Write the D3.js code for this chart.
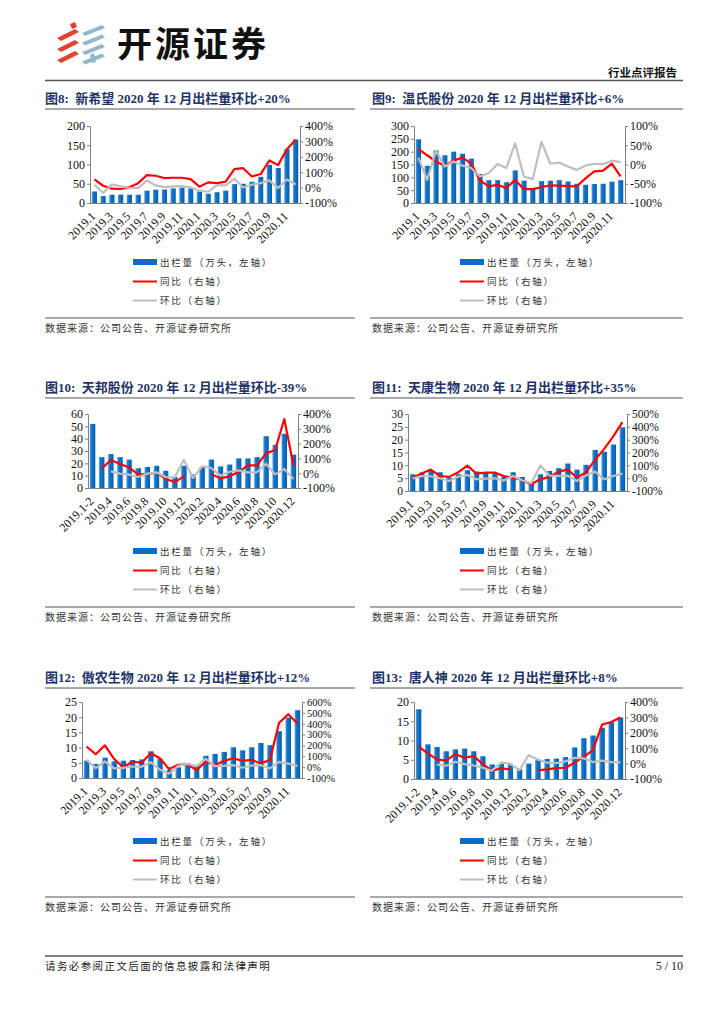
<!DOCTYPE html>
<html>
<head>
<meta charset="utf-8">
<script src="https://cdn.jsdelivr.net/npm/d3@7"></script>
<style>
  body { margin: 0; background: #fff; }
  svg { display: block; }
</style>
</head>
<body>
<svg id="page" width="724" height="1024"></svg>
<script>
// ---- categories ----
const months24 = ['2019.1','2019.2','2019.3','2019.4','2019.5','2019.6','2019.7','2019.8','2019.9','2019.10','2019.11','2019.12',
                  '2020.1','2020.2','2020.3','2020.4','2020.5','2020.6','2020.7','2020.8','2020.9','2020.10','2020.11','2020.12'];
const months23 = ['2019.1-2','2019.3','2019.4','2019.5','2019.6','2019.7','2019.8','2019.9','2019.10','2019.11','2019.12',
                  '2020.1','2020.2','2020.3','2020.4','2020.5','2020.6','2020.7','2020.8','2020.9','2020.10','2020.11','2020.12'];

// ---- 新希望 ----
const xhwOut = [30,18,21.5,22,21.5,21.5,32,34.5,35,38,40,38,30,24,28,32,49,50,55,68,99,91,140,165];
const xhwYoy = [53,12,-7,-9,3,29,81,77,62,64,64,55,6,34,29,38,120,126,72,88,176,146,249,310];
const xhwMom = [19,-35,21,8,-1,-3,47,14,3,8,10,1,-20,-27,16,14,57,1,19,29,47,-3,53,20];

// ---- 温氏股份 ----
const wsOut = [248,145,205,186,200,192,173,113,89,89,81,127,87,58,85,87,89,84,75,71,74,75,83,89];
const wsYoy = [40,24,8,-3,10,18,3,-41,-57,-53,-61,-40,-64,-64,-59,-54,-55,-56,-57,-36,-18,-16,2,-31];
const wsMom = [18,-40,36,-5,8,-3,-9,-31,-22,1,-9,55,-31,-38,59,2,5,-5,-14,-3,2,1,10,6];

// ---- 天邦股份 ----
const tbOut = [52,25,27.5,25,23,16,17,18,14,9,18,11,17,23,17.5,19,24,24,25,42,35,44,27];
const tbYoy = [null,31,89,62,40,-10,-5,4,-39,-60,-21,null,null,-5,-35,-21,8,53,53,134,157,366,53];
const tbMom = [null,null,12,-3,-10,-26,-3,6,-26,-28,91,-33,46,35,-17,10,19,6,6,64,-8,28,-39];

// ---- 天康生物 ----
const tkOut = [6.5,7.2,8.0,7.3,5.2,6.6,8.1,7.6,7.0,6.9,5.7,7.3,5.5,3.4,6.5,7.8,8.9,10.7,8.3,10.2,16.0,15.3,18.1,24.8];
const tkYoy = [4,36,67,17,10,46,98,36,43,43,17,4,-14,-48,-9,10,51,67,5,45,143,228,325,437];
const tkMom = [-3,17,15,-1,-22,12,25,-9,-4,-1,-19,17,-16,-40,98,20,17,20,-22,20,51,-9,17,35];

// ---- 傲农生物 ----
const anOut = [5.7,4.6,6.7,5.5,5.7,5.9,6.1,8.8,6.3,2.7,3.5,4.9,4.2,7.3,7.9,8.6,10.1,9.1,10.1,11.5,10.8,15.4,19.9,22.3];
const anYoy = [189,119,201,76,-3,52,40,128,82,-18,21,27,-27,52,18,58,82,58,67,33,67,408,487,402];
const anMom = [67,-9,52,-12,-6,6,3,46,-24,-61,12,30,9,76,9,12,18,-6,15,18,-12,49,33,12];

// ---- 唐人神 ----
const trsOut = [18.1,9.0,8.3,7.2,7.7,7.9,7.2,5.9,3.8,3.9,3.8,2.5,4.0,4.9,5.2,5.3,5.7,8.2,10.6,11.3,13.3,14.7,16.0];
const trsYoy = [111,66,27,19,62,38,49,-3,-46,-31,-38,null,null,-44,-38,-29,-27,6,44,88,253,270,299];
const trsMom = [null,null,-7,-14,12,-3,-12,-27,-46,6,-1,-42,55,27,6,3,14,38,34,10,19,10,8];

const legendLabels = ['出栏量（万头，左轴）', '同比（右轴）', '环比（右轴）'];
const sourceText = '数据来源：公司公告、开源证券研究所';

const SERIF = "'Liberation Serif','Times New Roman',serif";
const CJK = "'Noto Sans CJK SC','Noto Sans',sans-serif";
const TITLE_FONT = "'Liberation Serif','Noto Sans CJK SC',serif";
const NAVY = '#1F3466', RED = '#FF0000', GRAY = '#BFBFBF', AXIS = '#808080';

const svg = d3.select('#page');
const defs = svg.append('defs');
const grad = defs.append('linearGradient').attr('id', 'barGrad').attr('x1', 0).attr('x2', 1).attr('y1', 0).attr('y2', 0);
grad.append('stop').attr('offset', '0%').attr('stop-color', '#5AA6E6');
grad.append('stop').attr('offset', '30%').attr('stop-color', '#1874C8');
grad.append('stop').attr('offset', '100%').attr('stop-color', '#0060B0');

// ---- header ----
const head = svg.append('g');
[0, 1, 2].forEach(i => {
  const y = 29 + i * 11;
  head.append('path').attr('d', `M57,${y + 9} L75,${y} L79,${y + 3} L61,${y + 12} Z`).attr('fill', '#E2432F');
});
head.append('path').attr('d', 'M70,24 L75,22 L77,27 L72,29 Z').attr('fill', '#E2432F');
[0, 1, 2, 3].forEach(i => {
  const y = 25 + i * 9.5;
  head.append('path').attr('d', `M82,${y + 8} L102,${y} L105,${y + 3} L85,${y + 11} Z`).attr('fill', '#93B6C9');
});
head.append('path').attr('d', 'M90,55 L94,53 L96,62 L92,63 Z').attr('fill', '#93B6C9');
head.append('text').attr('x', 117).attr('y', 57).attr('font-family', CJK).attr('font-weight', 700)
  .attr('font-size', 35).attr('letter-spacing', 3).attr('fill', '#111').text('开源证券');
head.append('text').attr('x', 677).attr('y', 77).attr('text-anchor', 'end').attr('font-family', CJK)
  .attr('font-weight', 700).attr('font-size', 11.5).attr('fill', '#111').text('行业点评报告');
head.append('line').attr('x1', 45).attr('x2', 683).attr('y1', 80.5).attr('y2', 80.5).attr('stroke', '#555').attr('stroke-width', 1.5);

// ---- footer ----
svg.append('line').attr('x1', 45).attr('x2', 683).attr('y1', 956).attr('y2', 956).attr('stroke', '#555').attr('stroke-width', 1.5);
svg.append('text').attr('x', 45).attr('y', 970).attr('font-family', CJK).attr('font-size', 10.5).attr('letter-spacing', 1.4)
  .attr('fill', '#222').text('请务必参阅正文后面的信息披露和法律声明');
svg.append('text').attr('x', 683).attr('y', 970).attr('text-anchor', 'end').attr('font-family', SERIF).attr('font-size', 12)
  .attr('fill', '#222').style('white-space', 'pre').text('5 / 10');

// ---- panels ----
const colL = { x: 45, lx1: 45, lx2: 355 };
const colR = { x: 372, lx1: 370, lx2: 683 };

const panels = [
  { col: colL, ty: 98, title: '图8:  新希望 2020 年 12 月出栏量环比+20%', cats: months24, bars: xhwOut, yoy: xhwYoy, mom: xhwMom,
    left: [0, 200, 50], right: [-100, 400, 100], l: 90, r: 300, t: 126, b: 203, fs: 12 },
  { col: colR, ty: 98, title: '图9:  温氏股份 2020 年 12 月出栏量环比+6%', cats: months24, bars: wsOut, yoy: wsYoy, mom: wsMom,
    left: [0, 300, 50], right: [-100, 100, 50], l: 414, r: 625, t: 126, b: 203, fs: 12 },
  { col: colL, ty: 387, title: '图10:  天邦股份 2020 年 12 月出栏量环比-39%', cats: months23, bars: tbOut, yoy: tbYoy, mom: tbMom,
    left: [0, 60, 10], right: [-100, 400, 100], l: 88, r: 298, t: 414, b: 488, fs: 12 },
  { col: colR, ty: 387, title: '图11:  天康生物 2020 年 12 月出栏量环比+35%', cats: months24, bars: tkOut, yoy: tkYoy, mom: tkMom,
    left: [0, 30, 5], right: [-100, 500, 100], l: 408, r: 627, t: 414, b: 491, fs: 11.5 },
  { col: colL, ty: 677, title: '图12:  傲农生物 2020 年 12 月出栏量环比+12%', cats: months24, bars: anOut, yoy: anYoy, mom: anMom,
    left: [0, 25, 5], right: [-100, 600, 100], l: 82, r: 302, t: 702, b: 778, fs: 12, rfs: 10.5 },
  { col: colR, ty: 677, title: '图13:  唐人神 2020 年 12 月出栏量环比+8%', cats: months23, bars: trsOut, yoy: trsYoy, mom: trsMom,
    left: [0, 20, 5], right: [-100, 400, 100], l: 414, r: 625, t: 702, b: 779, fs: 12 }
];

function drawPanel(p) {
  const g = svg.append('g');
  const x0 = p.col.x;

  // title + rule
  g.append('text').attr('x', x0).attr('y', p.ty + 5).attr('font-family', TITLE_FONT).attr('font-weight', 'bold')
    .attr('font-size', 13).attr('fill', NAVY).style('white-space', 'pre').text(p.title);
  g.append('line').attr('x1', p.col.lx1).attr('x2', p.col.lx2).attr('y1', p.ty + 11).attr('y2', p.ty + 11)
    .attr('stroke', '#8C8C8C').attr('stroke-width', 1.5);

  const x = d3.scaleBand().domain(p.cats).range([p.l, p.r]);
  const yL = d3.scaleLinear().domain([p.left[0], p.left[1]]).range([p.b, p.t]);
  const yR = d3.scaleLinear().domain([p.right[0], p.right[1]]).range([p.b, p.t]);
  const cx = c => x(c) + x.bandwidth() / 2;
  const bw = x.bandwidth() * 0.6;

  const barData = p.cats.map((c, i) => ({ c, v: p.bars[i] }));
  g.append('g').selectAll('rect').data(barData).join('rect')
    .attr('x', d => cx(d.c) - bw / 2).attr('y', d => yL(d.v))
    .attr('width', bw).attr('height', d => yL(0) - yL(d.v))
    .attr('fill', 'url(#barGrad)');

  const line = d3.line().defined(d => d.v != null).x(d => cx(d.c)).y(d => yR(d.v));
  g.append('path').datum(p.cats.map((c, i) => ({ c, v: p.yoy[i] })))
    .attr('d', line).attr('fill', 'none').attr('stroke', RED).attr('stroke-width', 2.2).attr('stroke-linejoin', 'round');
  g.append('path').datum(p.cats.map((c, i) => ({ c, v: p.mom[i] })))
    .attr('d', line).attr('fill', 'none').attr('stroke', GRAY).attr('stroke-width', 2.2).attr('stroke-linejoin', 'round');

  // axes
  const axL = g.append('g').attr('transform', `translate(${p.l},0)`)
    .call(d3.axisLeft(yL).tickValues(d3.range(p.left[0], p.left[1] + 1e-9, p.left[2])).tickSize(3).tickSizeOuter(0));
  const axR = g.append('g').attr('transform', `translate(${p.r},0)`)
    .call(d3.axisRight(yR).tickValues(d3.range(p.right[0], p.right[1] + 1e-9, p.right[2])).tickSize(3).tickSizeOuter(0)
      .tickFormat(d => d + '%'));
  const axB = g.append('g').attr('transform', `translate(0,${p.b})`)
    .call(d3.axisBottom(x).tickValues(p.cats.filter((d, i) => i % 2 === 0)).tickSize(0).tickSizeOuter(0));

  [axL, axR, axB].forEach(a => {
    a.select('.domain').attr('stroke', AXIS);
    a.selectAll('.tick line').attr('stroke', AXIS);
    a.selectAll('text').attr('font-family', SERIF).attr('font-size', p.fs).attr('fill', '#111');
  });
  axL.selectAll('text').attr('x', -5);
  axR.selectAll('text').attr('x', 5).attr('font-size', p.rfs || p.fs);
  axB.selectAll('text').attr('font-size', 12).attr('x', 0).attr('y', 0).attr('dy', '0.35em').attr('text-anchor', 'end')
    .attr('transform', 'translate(-1,11) rotate(-45)');

  // legend
  const ly = [p.ty + 164, p.ty + 183.5, p.ty + 202.5];
  const lx = x0 + 88;
  const lg = g.append('g');
  lg.append('rect').attr('x', lx).attr('y', ly[0] - 3).attr('width', 24).attr('height', 6).attr('fill', '#0A6CC4');
  lg.append('line').attr('x1', lx).attr('x2', lx + 24).attr('y1', ly[1]).attr('y2', ly[1]).attr('stroke', RED).attr('stroke-width', 2);
  lg.append('line').attr('x1', lx).attr('x2', lx + 24).attr('y1', ly[2]).attr('y2', ly[2]).attr('stroke', GRAY).attr('stroke-width', 2);
  lg.selectAll('text').data(legendLabels).join('text')
    .attr('x', lx + 27).attr('y', (d, i) => ly[i] + 3.5)
    .attr('font-family', CJK).attr('font-size', 9.5).attr('letter-spacing', 1.8).attr('fill', '#333').text(d => d);

  // source
  g.append('line').attr('x1', p.col.lx1).attr('x2', p.col.lx2).attr('y1', p.ty + 220).attr('y2', p.ty + 220)
    .attr('stroke', '#8C8C8C').attr('stroke-width', 1.5);
  g.append('text').attr('x', x0).attr('y', p.ty + 234).attr('font-family', CJK).attr('font-size', 10)
    .attr('letter-spacing', 1).attr('fill', '#333').text(sourceText);
}

panels.forEach(drawPanel);
</script>
</body>
</html>
